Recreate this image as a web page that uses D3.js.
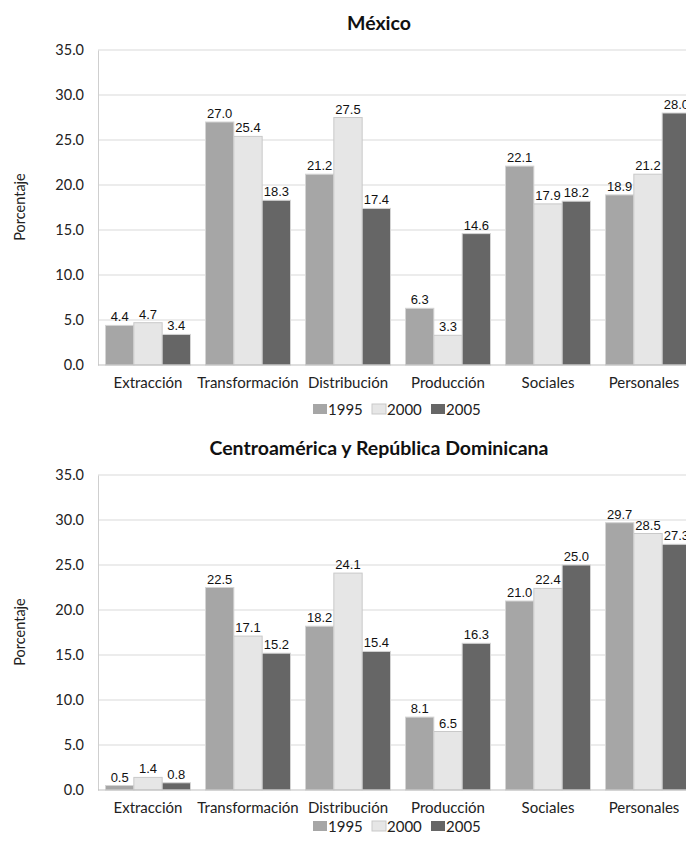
<!DOCTYPE html>
<html>
<head>
<meta charset="utf-8">
<script src="https://cdn.jsdelivr.net/npm/d3@7"></script>
<style>
  html, body { margin: 0; padding: 0; background: #fff; }
  svg { display: block; }
</style>
</head>
<body>
<svg id="chart" width="686" height="841"></svg>
<script>
// Sector categories (x axis)
const categories = ["Extracción", "Transformación", "Distribución", "Producción", "Sociales", "Personales"];
// Years shown as series
const years = ["1995", "2000", "2005"];
const yearColors = ["#a6a6a6", "#e6e6e6", "#666666"];
// Y axis ticks
const yTicks = [0, 5, 10, 15, 20, 25, 30, 35];

// México, percentage by sector and year
const mexico1995 = [4.4, 27.0, 21.2, 6.3, 22.1, 18.9];
const mexico2000 = [4.7, 25.4, 27.5, 3.3, 17.9, 21.2];
const mexico2005 = [3.4, 18.3, 17.4, 14.6, 18.2, 28.0];

// Centroamérica y República Dominicana, percentage by sector and year
const card1995 = [0.5, 22.5, 18.2, 8.1, 21.0, 29.7];
const card2000 = [1.4, 17.1, 24.1, 6.5, 22.4, 28.5];
const card2005 = [0.8, 15.2, 15.4, 16.3, 25.0, 27.3];

const panels = [
  { title: "México", series: [mexico1995, mexico2000, mexico2005], top: 0, legendY: 404 },
  { title: "Centroamérica y República Dominicana", series: [card1995, card2000, card2005], top: 425, legendY: 396 }
];

const svg = d3.select("#chart");
const labelFont = "Lato, 'Open Sans', sans-serif";
const valueFont = "'Liberation Sans', Arial, sans-serif";

const plotLeft = 98, plotRight = 698;

panels.forEach(p => {
  const g = svg.append("g").attr("transform", `translate(0,${p.top})`);
  const plotTop = 50, plotBottom = 365;

  const x = d3.scaleBand().domain(categories).range([plotLeft, plotRight])
    .paddingInner(0.15).paddingOuter(0.075);
  const xs = d3.scaleBand().domain(years).range([0, x.bandwidth()]);
  const y = d3.scaleLinear().domain([0, 35]).range([plotBottom, plotTop]);

  // Title
  g.append("text")
    .attr("x", 379).attr("y", 30)
    .attr("text-anchor", "middle")
    .attr("font-family", labelFont).attr("font-weight", "bold")
    .attr("font-size", 19.5).attr("fill", "#111")
    .text(p.title);

  // Gridlines
  g.append("g").selectAll("line").data(yTicks.filter(t => t > 0)).join("line")
    .attr("x1", plotLeft).attr("x2", 686)
    .attr("y1", d => y(d)).attr("y2", d => y(d))
    .attr("stroke", "#d9d9d9").attr("stroke-width", 1);

  // Y axis
  const yAxis = d3.axisLeft(y).tickValues(yTicks).tickFormat(d3.format(".1f")).tickSize(0).tickPadding(14);
  const ya = g.append("g").attr("transform", `translate(${plotLeft},0)`).call(yAxis);
  ya.select(".domain").attr("stroke", "#cfcfcf");
  ya.selectAll("text").attr("font-family", labelFont).attr("font-size", 14.5).attr("fill", "#222");

  // Y axis title
  g.append("text")
    .attr("transform", `translate(20,${207}) rotate(-90)`)
    .attr("text-anchor", "middle").attr("dy", "0.35em")
    .attr("font-family", labelFont).attr("font-size", 14.5).attr("fill", "#222")
    .text("Porcentaje");

  // Bars
  const rows = [];
  categories.forEach((c, i) => years.forEach((yr, j) => rows.push({ c, yr, j, v: p.series[j][i] })));

  g.append("g").selectAll("rect").data(rows).join("rect")
    .attr("x", d => x(d.c) + xs(d.yr))
    .attr("width", xs.bandwidth())
    .attr("y", d => y(d.v))
    .attr("height", d => y(0) - y(d.v))
    .attr("fill", d => yearColors[d.j])
    .attr("stroke", d => d.j === 1 ? "#c9c9c9" : "#d4d4d4")
    .attr("stroke-width", 1);

  // Value labels
  g.append("g").selectAll("text").data(rows).join("text")
    .attr("x", d => x(d.c) + xs(d.yr) + xs.bandwidth() / 2)
    .attr("y", d => y(d.v) - 4)
    .attr("text-anchor", "middle")
    .attr("font-family", valueFont).attr("font-size", 13).attr("fill", "#111")
    .text(d => d3.format(".1f")(d.v));

  // Baseline
  g.append("line")
    .attr("x1", plotLeft).attr("x2", 686)
    .attr("y1", y(0)).attr("y2", y(0))
    .attr("stroke", "#bfbfbf").attr("stroke-width", 1);

  // X axis labels
  const xAxis = d3.axisBottom(x).tickSize(0).tickPadding(12);
  const xa = g.append("g").attr("transform", `translate(0,${plotBottom})`).call(xAxis);
  xa.select(".domain").remove();
  xa.selectAll("text").attr("font-family", labelFont).attr("font-size", 15).attr("fill", "#222");
  // last label sits a little left so it stays inside the frame
  xa.selectAll(".tick").filter(d => d === "Personales").select("text").attr("dx", -4);

  // Legend
  const legendX = [313, 372, 431];
  const lg = g.append("g");
  years.forEach((yr, j) => {
    lg.append("rect")
      .attr("x", legendX[j]).attr("y", p.legendY)
      .attr("width", 14).attr("height", 10)
      .attr("fill", yearColors[j])
      .attr("stroke", j === 1 ? "#c9c9c9" : "none");
    lg.append("text")
      .attr("x", legendX[j] + 15).attr("y", p.legendY + 11)
      .attr("font-family", labelFont).attr("font-size", 15).attr("fill", "#222")
      .text(yr);
  });
});
</script>
</body>
</html>
